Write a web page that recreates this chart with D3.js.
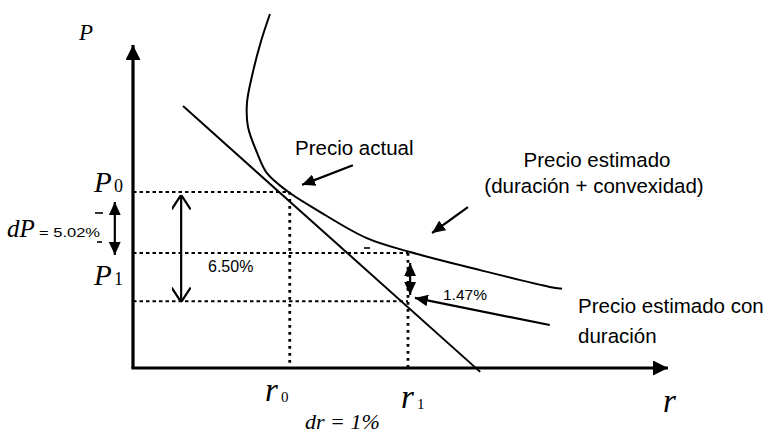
<!DOCTYPE html>
<html>
<head>
<meta charset="utf-8">
<script src="https://cdn.jsdelivr.net/npm/d3@7"></script>
<style>
  html, body { margin: 0; padding: 0; background: #fff; }
  svg { display: block; }
  .sans { font-family: 'Liberation Sans', Arial, sans-serif; fill: #000; }
  .math { font-family: 'Liberation Serif', 'Times New Roman', serif; font-style: italic; fill: #000; }
  .sub { font-family: 'Liberation Serif', 'Times New Roman', serif; fill: #000; }
</style>
</head>
<body>
<svg id="chart" width="778" height="434"></svg>
<script>
// Abstract units: r and P both run 0..100 along the drawn axes
const rDomain = [0, 100];
const pDomain = [0, 100];

// Reference rates and price levels
const r0 = 29.3;
const r1 = 51.4;
const P0 = 54.5;
const P1 = 35.6;
const Pdur = 20.7; // price estimated with duration only

// Price-yield curve
const curveR = [25.6, 23.9, 22.2, 21.3, 21.5, 23.2, 25.0, 28.8, 34.4, 43.7, 51.8, 64.9, 77.9, 80.2];
const curveP = [109.6, 101.0, 90.1, 82.0, 74.6, 66.6, 60.4, 54.8, 48.9, 40.2, 35.9, 30.3, 25.1, 24.5];

// Duration tangent line end points
const tangentR = [9.35, 64.9];
const tangentP = [81.1, -1.2];

const svg = d3.select('#chart');
svg.append('rect').attr('width', 778).attr('height', 434).attr('fill', '#fff');

const x = d3.scaleLinear().domain(rDomain).range([133, 668]);
const y = d3.scaleLinear().domain(pDomain).range([368, 45]);

// Arrow markers
const defs = svg.append('defs');
function marker(id, w, h, open) {
  const m = defs.append('marker')
    .attr('id', id)
    .attr('markerUnits', 'userSpaceOnUse')
    .attr('markerWidth', w + 2)
    .attr('markerHeight', h + 2)
    .attr('viewBox', `0 0 ${w} ${h}`)
    .attr('refX', w)
    .attr('refY', h / 2)
    .attr('orient', 'auto-start-reverse');
  if (open) {
    m.append('path')
      .attr('d', `M0,0 L${w},${h / 2} L0,${h}`)
      .attr('fill', 'none')
      .attr('stroke', '#000')
      .attr('stroke-width', 2);
  } else {
    m.append('path').attr('d', `M0,0 L${w},${h / 2} L0,${h} Z`).attr('fill', '#000');
  }
}
marker('axisHead', 13, 13, false);
marker('head', 11, 10, false);
marker('openHead', 13, 17, true);

// Dotted guide lines
const guides = svg.append('g').attr('class', 'guides');
const hGuides = [
  { p: P0, r: r0 },
  { p: P1, r: r1 },
  { p: Pdur, r: r1 },
];
guides.selectAll('line.h')
  .data(hGuides)
  .join('line')
  .attr('class', 'h')
  .attr('x1', x(0))
  .attr('x2', (d) => x(d.r))
  .attr('y1', (d) => y(d.p))
  .attr('y2', (d) => y(d.p))
  .attr('stroke', '#000')
  .attr('stroke-width', 2)
  .attr('stroke-dasharray', '3.5,3');

const vGuides = [
  { r: r0, p: P0 },
  { r: r1, p: P1 },
];
guides.selectAll('line.v')
  .data(vGuides)
  .join('line')
  .attr('class', 'v')
  .attr('x1', (d) => x(d.r))
  .attr('x2', (d) => x(d.r))
  .attr('y1', (d) => y(d.p))
  .attr('y2', y(0))
  .attr('stroke', '#000')
  .attr('stroke-width', 2.8)
  .attr('stroke-dasharray', '2.8,4.2');

// Axes
svg.append('line')
  .attr('x1', x(0)).attr('y1', y(0))
  .attr('x2', x(0)).attr('y2', y(100))
  .attr('stroke', '#000').attr('stroke-width', 3.2)
  .attr('marker-end', 'url(#axisHead)');
svg.append('line')
  .attr('x1', x(0) - 1.6).attr('y1', y(0))
  .attr('x2', x(100)).attr('y2', y(0))
  .attr('stroke', '#000').attr('stroke-width', 3.2)
  .attr('marker-end', 'url(#axisHead)');

// Curve and tangent
const line = d3.line().x((d) => x(d[0])).y((d) => y(d[1]));
svg.append('path')
  .attr('d', line.curve(d3.curveCatmullRom.alpha(0.5))(curveR.map((r, i) => [r, curveP[i]])))
  .attr('fill', 'none')
  .attr('stroke', '#000')
  .attr('stroke-width', 2);
svg.append('path')
  .attr('d', d3.line().x((d) => x(d[0])).y((d) => y(d[1]))(tangentR.map((r, i) => [r, tangentP[i]])))
  .attr('fill', 'none')
  .attr('stroke', '#000')
  .attr('stroke-width', 2);

// Annotation arrows (from -> to, in chart units)
const pointers = [
  { from: [41.1, 62.8], to: [31.6, 56.7] },
  { from: [62.6, 49.8], to: [55.9, 41.8] },
  { from: [77.9, 13.3], to: [52.7, 21.7] },
];
svg.selectAll('line.pointer')
  .data(pointers)
  .join('line')
  .attr('class', 'pointer')
  .attr('x1', (d) => x(d.from[0])).attr('y1', (d) => y(d.from[1]))
  .attr('x2', (d) => x(d.to[0])).attr('y2', (d) => y(d.to[1]))
  .attr('stroke', '#000').attr('stroke-width', 2.2)
  .attr('marker-end', 'url(#head)');

const spans = [
  { r: 51.8, top: 32.5, bottom: 22.6, head: 'head' },
  { r: 9.0, top: 53.6, bottom: 20.4, head: 'openHead' },
  { r: -3.4, top: 51.4, bottom: 35.0, head: 'head' },
];
svg.selectAll('line.span')
  .data(spans)
  .join('line')
  .attr('class', 'span')
  .attr('x1', (d) => x(d.r)).attr('y1', (d) => y(d.top))
  .attr('x2', (d) => x(d.r)).attr('y2', (d) => y(d.bottom))
  .attr('stroke', '#000').attr('stroke-width', 2.2)
  .attr('marker-start', (d) => `url(#${d.head})`)
  .attr('marker-end', (d) => `url(#${d.head})`);

// little dashes near dP
[[95, 103, 213], [97, 102, 242], [364, 370, 248]].forEach(([a, b, yy]) => {
  svg.append('line').attr('x1', a).attr('x2', b).attr('y1', yy).attr('y2', yy)
    .attr('stroke', '#000').attr('stroke-width', 1.6);
});

// Labels
const t = svg.append('g');
function text(cls, str, tx, ty, size, anchor) {
  return t.append('text')
    .attr('class', cls)
    .attr('x', tx).attr('y', ty)
    .attr('font-size', size)
    .attr('text-anchor', anchor || 'start')
    .text(str);
}

text('math', 'P', 79, 40, 23);
text('math', 'P', 94, 192, 29);
text('sub', '0', 114, 192, 18);
text('math', 'P', 94, 285, 29);
text('sub', '1', 114, 285, 18);
text('math', 'dP', 7, 237, 25);
text('sans', '= 5.02%', 39, 237, 12.5).attr('textLength', 61).attr('lengthAdjust', 'spacingAndGlyphs');
text('sans', '6.50%', 208, 272, 16);
text('sans', '1.47%', 443, 300, 15.5);

text('sans', 'Precio actual', 295, 155, 20.5);
text('sans', 'Precio estimado', 597, 167, 20.5, 'middle');
text('sans', '(duración + convexidad)', 594, 193, 20.5, 'middle');
text('sans', 'Precio estimado con', 578, 313, 20.5);
text('sans', 'duración', 578, 343, 20.5);

text('math', 'r', 265, 401, 33);
text('sub', '0', 281, 402, 15);
text('math', 'r', 401, 408, 33);
text('sub', '1', 417, 409, 15);
text('math', 'dr = 1%', 305, 429, 22);
text('math', 'r', 663, 412, 33);
</script>
</body>
</html>
